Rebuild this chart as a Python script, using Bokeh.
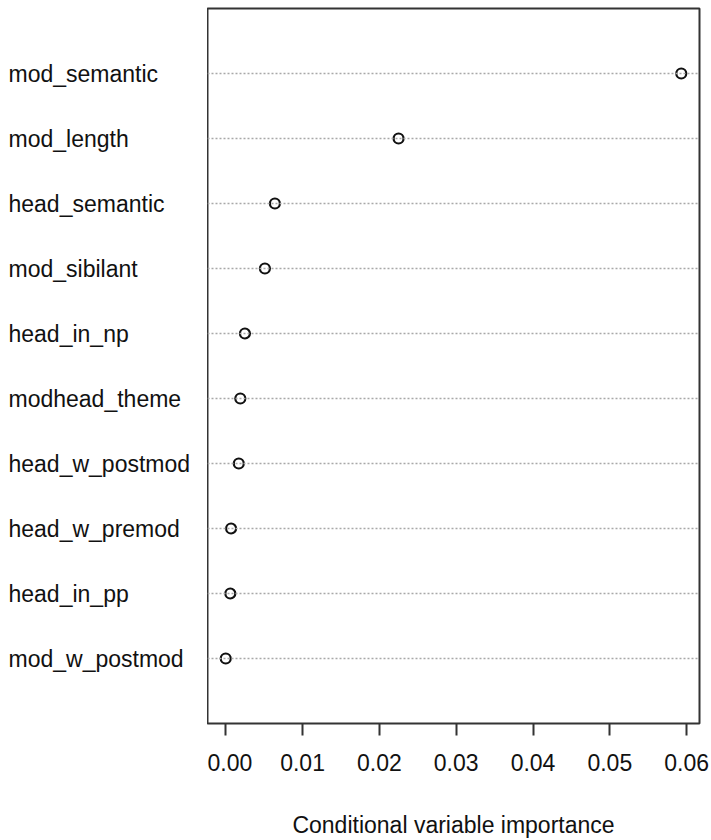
from bokeh.plotting import figure
from bokeh.models import Range1d, FixedTicker, PrintfTickFormatter, Span, ColumnDataSource
from bokeh.layouts import row
from bokeh.core.properties import value
from bokeh.embed import file_html
from bokeh.resources import INLINE

variables = ["mod_semantic", "mod_length", "head_semantic", "mod_sibilant", "head_in_np",
             "modhead_theme", "head_w_postmod", "head_w_premod", "head_in_pp", "mod_w_postmod"]
importance = [0.0593, 0.0225, 0.0064, 0.0051, 0.0025, 0.0019, 0.0017, 0.0007, 0.0006, 0.0000]
x_ticks = [0.0, 0.01, 0.02, 0.03, 0.04, 0.05, 0.06]
x_title = "Conditional variable importance"

n = len(variables)
ypos = [n - i for i in range(n)]
src = ColumnDataSource(dict(var=variables, imp=importance, y=ypos, lx=[8] * n))

FONT = "Liberation Sans"
FS = "23px"
TOP, BOTTOM = 8, 115

y_range = Range1d(0, n + 1)
lo, hi = min(importance), max(importance)
ext = 0.04 * (hi - lo)
x_range = Range1d(lo - ext, hi + ext)

# label panel
lab = figure(width=207, height=840, x_range=Range1d(0, 207), y_range=y_range,
             output_backend="svg", toolbar_location=None,
             min_border_left=0, min_border_right=0, min_border_top=TOP, min_border_bottom=BOTTOM)
lab.axis.visible = False
lab.grid.visible = False
lab.outline_line_color = None
lab.text(x="lx", y="y", text="var", source=src, text_align="left", text_baseline="middle",
         text_font=value(FONT), text_font_size=FS, text_color="#111111")

# main panel
p = figure(width=504, height=840, x_range=x_range, y_range=y_range,
           output_backend="svg", toolbar_location=None,
           min_border_left=0, min_border_right=12, min_border_top=TOP, min_border_bottom=BOTTOM)
p.yaxis.visible = False
p.grid.visible = False
p.outline_line_color = "#333333"
p.outline_line_width = 2

for yy in ypos:
    p.add_layout(Span(location=yy, dimension="width", line_color="#a8a8a8",
                      line_dash="2 2", line_width=1.3))

p.scatter(x="imp", y="y", source=src, size=10, fill_color="white",
          line_color="#111111", line_width=2.2)

ax = p.xaxis[0]
ax.ticker = FixedTicker(ticks=x_ticks)
ax.formatter = PrintfTickFormatter(format="%.2f")
ax.axis_line_color = None
ax.major_tick_in = 0
ax.major_tick_out = 12
ax.major_tick_line_width = 2
ax.major_tick_line_color = "#333333"
ax.minor_tick_line_color = None
ax.major_label_text_font = FONT
ax.major_label_text_font_size = FS
ax.major_label_text_color = "#111111"
ax.major_label_standoff = 18
ax.axis_label = x_title
ax.axis_label_text_font = FONT
ax.axis_label_text_font_size = FS
ax.axis_label_text_font_style = "normal"
ax.axis_label_text_color = "#111111"
ax.axis_label_standoff = 38

layout = row(lab, p)
open("out.html", "w").write(file_html(layout, INLINE))
